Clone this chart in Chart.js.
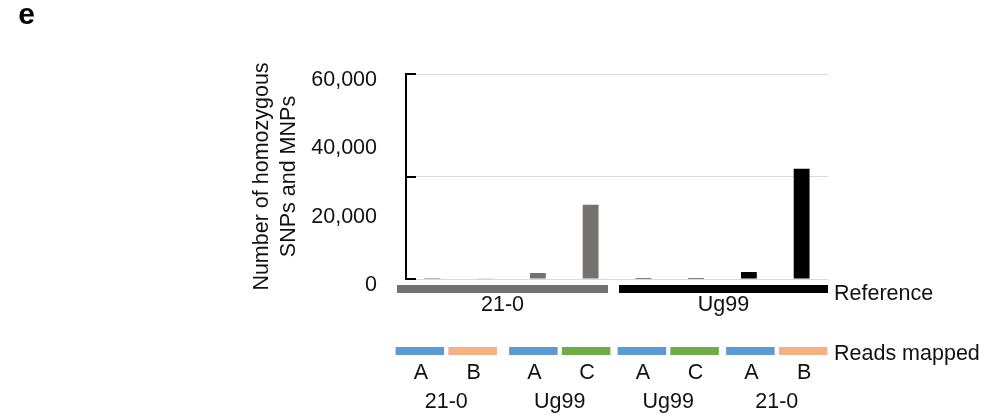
<!DOCTYPE html>
<html>
<head>
<meta charset="utf-8">
<script src="https://cdn.jsdelivr.net/npm/chart.js@4"></script>
<style>
  body { margin: 0; background: #fff; }
  #wrap { width: 986px; height: 417px; }
</style>
</head>
<body>
<div id="wrap"><canvas id="snp-chart" width="986" height="417"></canvas></div>
<script>
// reference genome each bar was called against
const references = ['21-0', '21-0', '21-0', '21-0', 'Ug99', 'Ug99', 'Ug99', 'Ug99'];
// which reads were mapped: sample + haplotype
const readSamples = ['21-0', '21-0', 'Ug99', 'Ug99', 'Ug99', 'Ug99', '21-0', '21-0'];
const readHaplotypes = ['A', 'B', 'A', 'C', 'A', 'C', 'A', 'B'];

const snpCounts = [300, 200, 1750, 21700, 300, 300, 2050, 32300];

const yTickLabels = [0, 20000, 40000, 60000];
const gridValues = [0, 30000, 60000];

const refColors = {'21-0': '#767171', 'Ug99': '#000000'};
const hapColors = {A: '#5b9bd5', B: '#f4b183', C: '#70ad47'};

const FONT = '"Liberation Sans", Arial, sans-serif';
const TXT = '#111';

const labels = references.map((r, i) => r + ' / ' + readSamples[i] + ' ' + readHaplotypes[i]);

function drawText(ctx, s, x, y, align) {
  ctx.textAlign = align || 'center';
  ctx.textBaseline = 'middle';
  ctx.fillText(s, x, y);
}

// reference bars, reads-mapped strips and their labels under the plot
const overlay = {
  id: 'overlay',
  afterDraw(chart) {
    const {ctx, chartArea, scales: {x, y}} = chart;
    const step = x.getPixelForValue(1) - x.getPixelForValue(0);
    const base = chartArea.bottom;
    ctx.save();

    // short inner tick marks on the y axis
    ctx.strokeStyle = '#000';
    ctx.lineWidth = 2;
    gridValues.forEach(v => {
      const py = Math.round(y.getPixelForValue(v));
      ctx.beginPath();
      ctx.moveTo(chartArea.left, py);
      ctx.lineTo(chartArea.left + 10, py);
      ctx.stroke();
    });

    ctx.font = '21.5px ' + FONT;
    ctx.fillStyle = TXT;

    // reference groups
    const refShift = [[-9, -9], [2, 0]];
    let groups = [];
    references.forEach((r, i) => {
      if (!groups.length || groups[groups.length - 1].name !== r) groups.push({name: r, first: i, last: i});
      else groups[groups.length - 1].last = i;
    });
    groups.forEach((g, k) => {
      const sh = refShift[k] || [0, 0];
      const l = x.getPixelForValue(g.first) - step / 2 + sh[0];
      const r = x.getPixelForValue(g.last) + step / 2 + sh[1];
      ctx.fillStyle = refColors[g.name];
      ctx.fillRect(l, base + 6, r - l, 8);
      ctx.fillStyle = TXT;
      drawText(ctx, g.name, (l + r) / 2, base + 26);
    });
    drawText(ctx, 'Reference', chartArea.right + 6, base + 15, 'left');

    // reads mapped strips
    const pairShift = [-12.5, -4.5, -1.5, 1.5];
    const centers = readHaplotypes.map((h, i) => x.getPixelForValue(i) + pairShift[Math.floor(i / 2)]);
    readHaplotypes.forEach((h, i) => {
      ctx.fillStyle = hapColors[h];
      ctx.fillRect(centers[i] - 24.25, base + 68, 48.5, 8);
      ctx.fillStyle = TXT;
      drawText(ctx, h, centers[i] + 1, base + 94);
    });
    for (let i = 0; i < readSamples.length; i += 2) {
      drawText(ctx, readSamples[i], (centers[i] + centers[i + 1]) / 2, base + 123);
    }
    drawText(ctx, 'Reads mapped', chartArea.right + 6, base + 75, 'left');

    // panel letter
    ctx.font = 'bold 30px ' + FONT;
    ctx.fillStyle = '#000';
    drawText(ctx, 'e', 26.5, 16);
    ctx.restore();
  }
};

const config = {
  type: 'bar',
  data: {
    labels: labels,
    datasets: [{
      label: 'Homozygous SNPs and MNPs',
      data: snpCounts,
      backgroundColor: references.map(r => refColors[r]),
      borderWidth: 0,
      barPercentage: 0.3,
      categoryPercentage: 1.0
    }]
  },
  options: {
    responsive: false,
    animation: false,
    layout: {padding: {left: 0, top: 74, right: 158, bottom: 138}},
    plugins: {legend: {display: false}, tooltip: {enabled: false}},
    scales: {
      x: {display: false},
      y: {
        min: 0,
        max: 60000,
        afterFit: s => { s.width = 406; },
        afterBuildTicks: axis => {
          const vals = [...new Set(yTickLabels.concat(gridValues))].sort((a, b) => a - b);
          axis.ticks = vals.map(v => ({value: v}));
        },
        ticks: {
          padding: 29,
          labelOffset: 6,
          color: TXT,
          font: {family: FONT, size: 21.5},
          callback: v => yTickLabels.includes(v) ? v.toLocaleString('en-US') : ''
        },
        grid: {
          drawTicks: false,
          color: c => (c.tick && gridValues.includes(c.tick.value)) ? '#d9d9d9' : 'rgba(0,0,0,0)',
          lineWidth: 1
        },
        border: {display: true, color: '#000', width: 2},
        title: {
          display: true,
          text: ['Number of homozygous', 'SNPs and MNPs'],
          color: TXT,
          font: {family: FONT, size: 21.5, lineHeight: 1.23},
          padding: {top: 249, bottom: 0}
        }
      }
    }
  },
  plugins: [overlay]
};

const snpChart = new Chart(document.getElementById('snp-chart'), config);
</script>
</body>
</html>
